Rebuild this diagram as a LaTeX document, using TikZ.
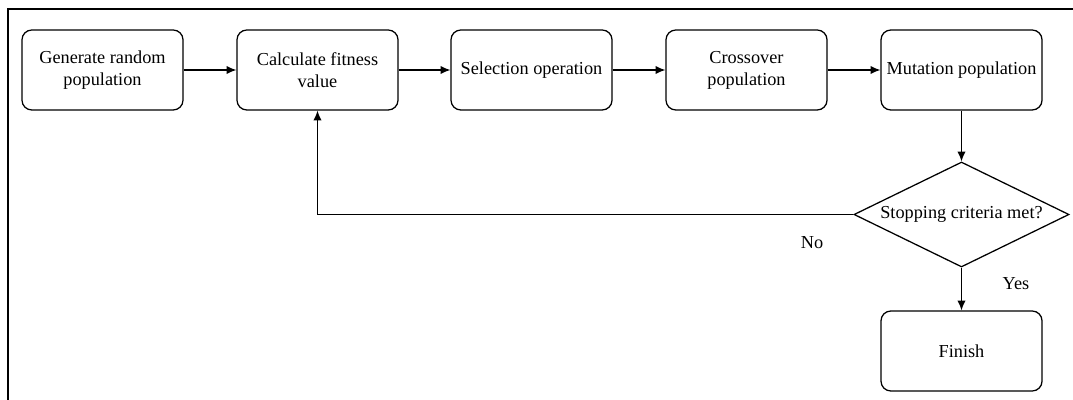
\documentclass[tikz,border=0pt]{standalone}
\usepackage{fontspec}
\setmainfont{Liberation Serif}
\usetikzlibrary{arrows.meta}
\usetikzlibrary{shapes.geometric}
\tikzset{>={Latex[length=7pt,width=6pt]}}
\tikzset{
  stepbox/.style={draw, rounded corners=7pt, line width=0.9pt,
    minimum width=4.025cm, minimum height=2cm, inner sep=0pt, align=center},
  testbox/.style={draw, diamond, aspect=2.05, line width=0.9pt, inner sep=0pt,
    minimum width=5.375cm, minimum height=2.625cm},
  flow/.style={->, line width=0.9pt}
}

\begin{document}
\begin{tikzpicture}[x=0.025cm, y=-0.025cm, font=\fontsize{13}{15.5}\selectfont]
  \useasboundingbox (0,0) rectangle (1073,400);
  \draw [line width=0.9pt] (8,400) |- (1073,9);
  % top row
  \foreach \name/\x/\txt in {gen/102.5/{Generate random\\population},
      calc/317.5/{Calculate fitness\\value},
      sel/531.5/{Selection operation},
      cross/746.5/{Crossover\\population},
      mut/961.5/{Mutation population}}{
    \node [stepbox] (\name) at (\x,70) {\txt};
  }
  \foreach \a/\b in {gen/calc,calc/sel,sel/cross,cross/mut}{
    \draw [flow] (\a) -- (\b);
  }
  \node [testbox] (stop) at (961.5,214.5) {Stopping criteria met?};
  \node [stepbox] (finish) at (961.5,351) {Finish};
  \draw [flow] (mut) -- (stop);
  \draw [flow] (stop) -- (finish);
  \draw [flow] (stop.west) -| (calc.south);
  \node (no) at (812,243) {No};
  \node (yes) at (1016,284) {Yes};
\end{tikzpicture}
\end{document}
